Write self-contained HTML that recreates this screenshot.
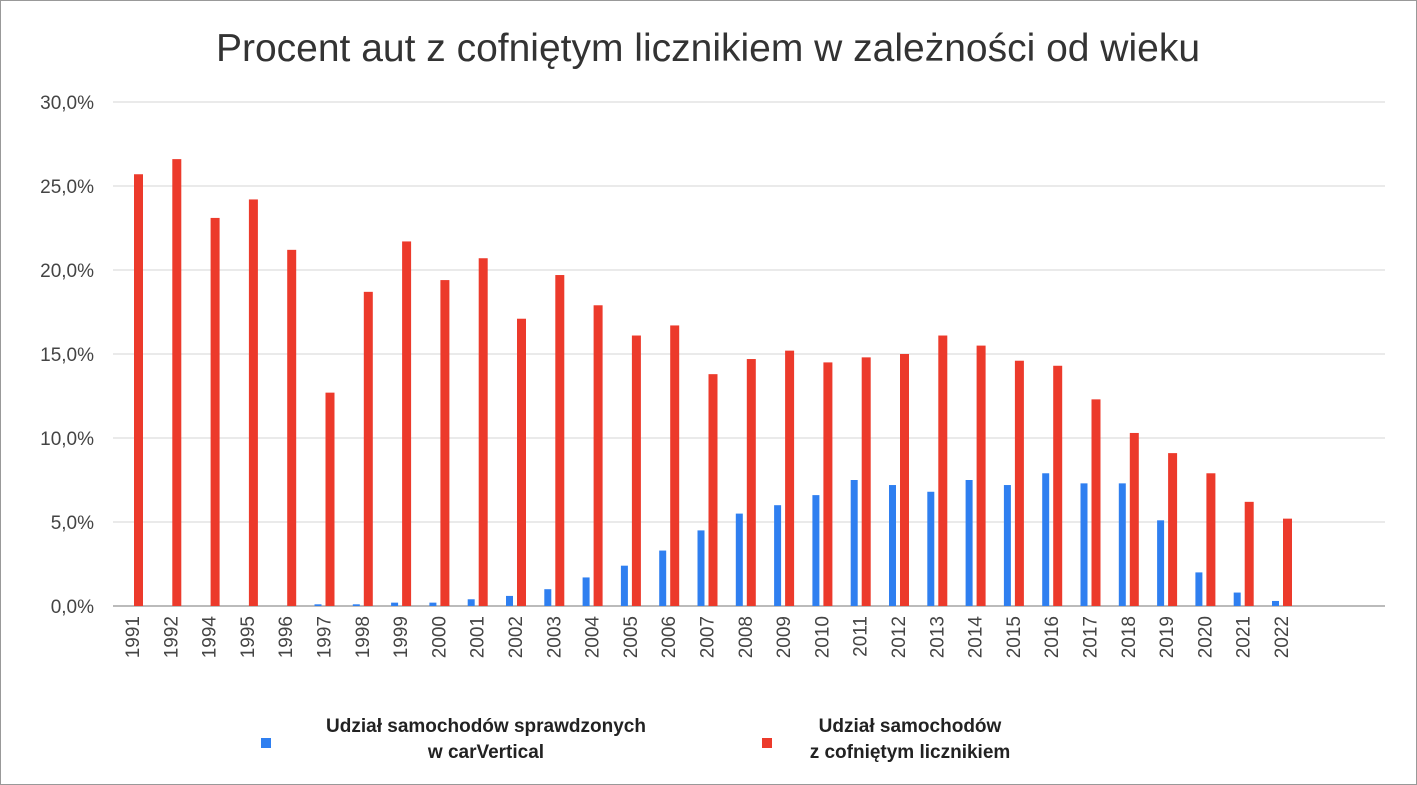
<!DOCTYPE html>
<html><head><meta charset="utf-8"><style>
body{margin:0;background:#fff;}
svg{display:block;font-family:"Liberation Sans",sans-serif;}
</style></head><body>
<svg id="c" width="1417" height="785">
<rect x="0.5" y="0.5" width="1416" height="784" fill="#fff" stroke="#999"/>
<text x="708" y="61" text-anchor="middle" font-size="39" fill="#333">Procent aut z cofniętym licznikiem w zależności od wieku</text>
<g id="grid"></g><g id="bars"></g><g id="xl"></g>
<g>
<rect x="261" y="738" width="10" height="10" fill="#2f7ff0"/>
<text x="486" y="732" text-anchor="middle" font-size="19" font-weight="bold" fill="#222">Udział samochodów sprawdzonych</text>
<text x="486" y="758" text-anchor="middle" font-size="19" font-weight="bold" fill="#222">w carVertical</text>
<rect x="762" y="738" width="10" height="10" fill="#ec3a2b"/>
<text x="910" y="732" text-anchor="middle" font-size="19" font-weight="bold" fill="#222">Udział samochodów</text>
<text x="910" y="758" text-anchor="middle" font-size="19" font-weight="bold" fill="#222">z cofniętym licznikiem</text>
</g>
</svg>
<script>
const categories=["1991","1992","1994","1995","1996","1997","1998","1999","2000","2001","2002","2003","2004","2005","2006","2007","2008","2009","2010","2011","2012","2013","2014","2015","2016","2017","2018","2019","2020","2021","2022"];
const checkedShare=[0,0,0,0,0,0.1,0.1,0.2,0.2,0.4,0.6,1.0,1.7,2.4,3.3,4.5,5.5,6.0,6.6,7.5,7.2,6.8,7.5,7.2,7.9,7.3,7.3,5.1,2.0,0.8,0.3];
const rolledBackShare=[25.7,26.6,23.1,24.2,21.2,12.7,18.7,21.7,19.4,20.7,17.1,19.7,17.9,16.1,16.7,13.8,14.7,15.2,14.5,14.8,15.0,16.1,15.5,14.6,14.3,12.3,10.3,9.1,7.9,6.2,5.2];
const yTicks=[0,5,10,15,20,25,30];
const tickLabels=["0,0%","5,0%","10,0%","15,0%","20,0%","25,0%","30,0%"];
const NS="http://www.w3.org/2000/svg";
const y=v=>606-v*504/30;
const x=i=>133+i*38.3; // group center
function mk(t,a,p){const e=document.createElementNS(NS,t);for(const k in a)e.setAttribute(k,a[k]);p.appendChild(e);return e;}
const g=document.getElementById('grid');
yTicks.forEach((t,i)=>{
 const l=mk('line',{x1:113,x2:1385,y1:y(t),y2:y(t),stroke:i==0?'#bbb':'#ddd','stroke-width':i==0?2:1.3},g);
 
 
 const tx=mk('text',{x:94,y:y(t)+7,'text-anchor':'end','font-size':19,fill:'#444'},g);
 tx.textContent=tickLabels[i];
 
 
});
const b=document.getElementById('bars'),xl=document.getElementById('xl');
categories.forEach((c,i)=>{
 const cx=x(i);
 if(checkedShare[i]>0){
 const r=mk('rect',{x:cx-10,y:y(checkedShare[i]),width:7,height:606-y(checkedShare[i]),fill:'#2f7ff0'},b);
 
 }
 const r2=mk('rect',{x:cx+1,y:y(rolledBackShare[i]),width:9,height:606-y(rolledBackShare[i]),fill:'#ec3a2b'},b);
 
 
 const t=mk('text',{x:0,y:0,'text-anchor':'end','font-size':19,fill:'#444',transform:`translate(${cx+6},616) rotate(-90)`},xl);
 t.textContent=c;
 
 
});
</script>
</body></html>
